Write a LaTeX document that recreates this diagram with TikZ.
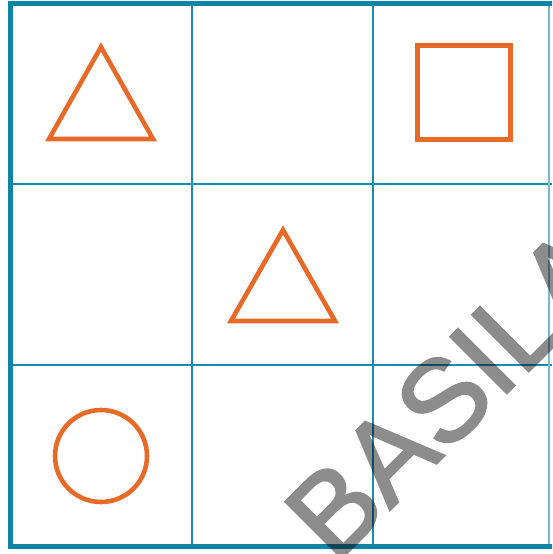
\documentclass[tikz,border=0pt]{standalone}
\usepackage{fontspec}
\newfontfamily\wmfont[FakeBold=2]{Liberation Sans}
\definecolor{teal1}{RGB}{16,132,164}
\definecolor{teal2}{RGB}{24,140,176}
\definecolor{orng}{RGB}{232,106,40}
\begin{document}
\begin{tikzpicture}[x=1pt,y=-1pt,
  gridline/.style={draw=teal2,line width=2pt},
  frameline/.style={draw=teal1,line width=5pt},
  figline/.style={draw=orng,line width=4.6pt,line join=miter},
  wm/.style={text=black,font=\wmfont\fontsize{116}{116}\selectfont,rotate=45,anchor=base west,inner sep=0pt}]
\useasboundingbox (0,0) rectangle (552,554);
\fill[white] (0,0) rectangle (552,554);
\begin{scope}
\clip (0,0) rectangle (552,554);
% grid
\draw[gridline] (191.5,3) -- (191.5,546);
\draw[gridline] (373,3) -- (373,546);
\draw[gridline] (10,183.5) -- (552,183.5);
\draw[gridline] (10,365) -- (552,365);
\draw[draw=teal2!60,line width=1.2pt] (549,3) -- (549,546);
% frame
\draw[frameline] (560,3) -- (10.5,3) -- (10.5,546.5) -- (560,546.5);
% figures
\coordinate (t1a) at (101,47);
\coordinate (t1b) at (49,139);
\coordinate (t1c) at (153,139);
\draw[figline] (t1a) -- (t1b) -- (t1c) -- cycle;
\coordinate (s1) at (417.5,45.5);
\coordinate (s2) at (510.5,139.5);
\draw[figline] (s1) rectangle (s2);
\coordinate (t2a) at (283,230);
\coordinate (t2b) at (231,321);
\coordinate (t2c) at (335,321);
\draw[figline] (t2a) -- (t2b) -- (t2c) -- cycle;
\coordinate (c1) at (101,456);
\draw[figline] (c1) circle[radius=46];
% watermark
\begin{scope}[transparency group,opacity=0.45]
\node[wm] (wmk) at (335,565) {BASILA};
\end{scope}
\end{scope}
\end{tikzpicture}
\end{document}
